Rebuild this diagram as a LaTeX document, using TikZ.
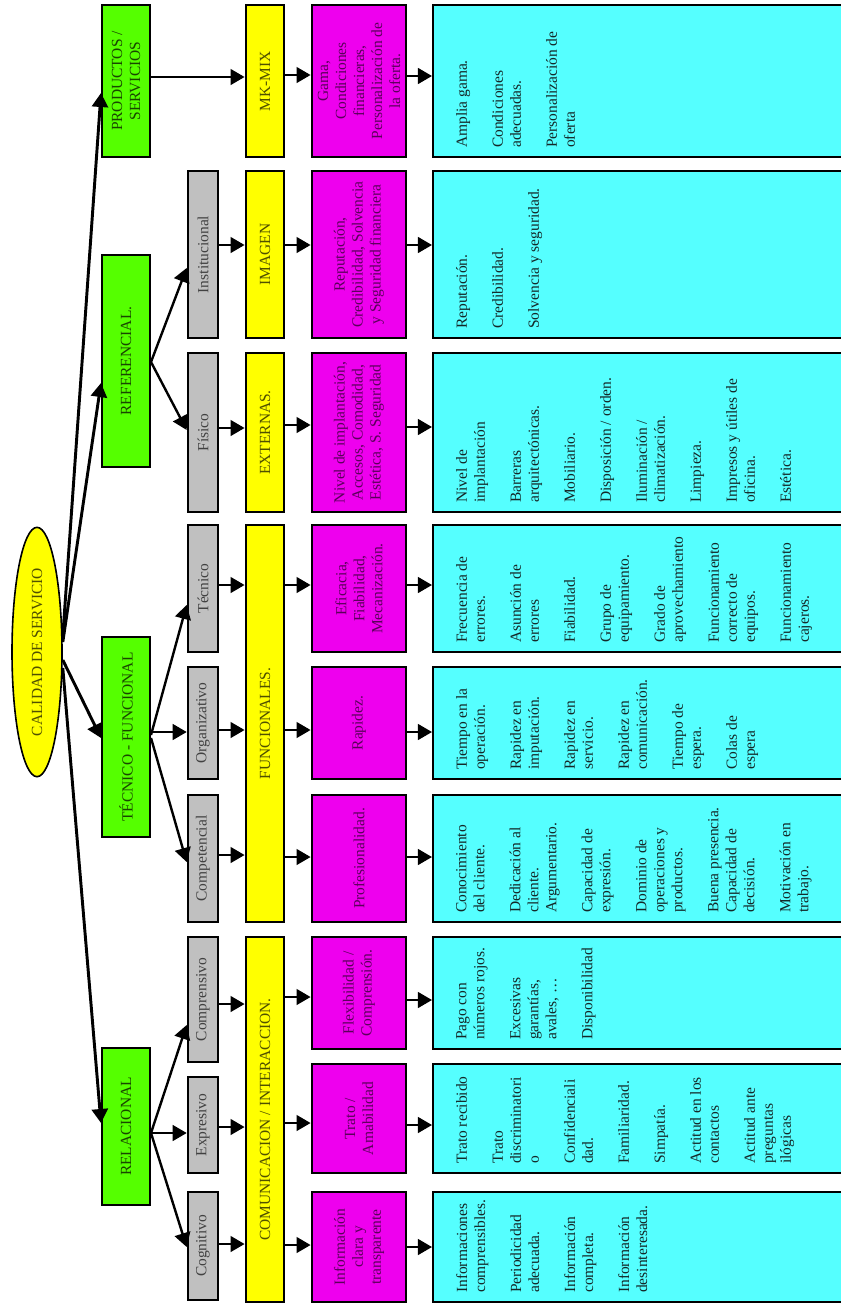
\documentclass[tikz,border=0pt]{standalone}
\usepackage{fontspec}
\setmainfont{Liberation Serif}
\usetikzlibrary{arrows.meta,shapes.geometric,fit}

\definecolor{cgreen}{RGB}{85,255,0}
\definecolor{cyel}{RGB}{255,255,0}
\definecolor{cmag}{RGB}{238,0,238}
\definecolor{cgrey}{RGB}{192,192,192}
\definecolor{ccyan}{RGB}{85,255,255}
\definecolor{tgreen}{RGB}{25,70,0}
\definecolor{tyel}{RGB}{80,80,0}
\definecolor{tmag}{RGB}{90,0,90}
\definecolor{tgrey}{RGB}{65,65,65}
\definecolor{tcyan}{RGB}{20,40,40}

\newcommand\lbl{\fontsize{11.6}{13.5}\selectfont}
\newcommand\gap{\\[13.5pt]}

\begin{document}
\begin{tikzpicture}[x=0.75pt,y=-0.75pt,
  greenbox/.style={draw, line width=1.5pt, fill=cgreen, inner sep=0pt},
  greybox/.style={draw, line width=2pt, fill=cgrey, inner sep=0pt},
  yelbox/.style={draw, line width=2.2pt, fill=cyel, inner sep=0pt},
  magbox/.style={draw, line width=2.2pt, fill=cmag, inner sep=0pt},
  cyanbox/.style={draw, line width=1.6pt, fill=ccyan, inner sep=0pt},
  gtext/.style={rotate=90, align=center, font=\lbl, text=tgreen},
  grtext/.style={rotate=90, align=center, font=\lbl, text=tgrey},
  ytext/.style={rotate=90, align=center, font=\lbl, text=tyel},
  mtext/.style={rotate=90, align=center, font=\lbl, text=tmag},
  ctext/.style={rotate=90, anchor=north west, align=left, font=\lbl, text=tcyan, inner sep=0pt},
  tip/.style={-{Triangle[length=10.5pt,width=12pt]}},
  heavy/.style={tip, line width=2.2pt},
  medium/.style={tip, line width=1.8pt},
  light/.style={tip, line width=1pt}
]
\useasboundingbox (0,0) rectangle (840,1303);

% root
\node[ellipse, draw, line width=1.2pt, fill=cyel, minimum width=37.5pt, minimum height=187pt, inner sep=0pt] (cal) at (37,652) {};
\node[ytext] (cal-t) at (cal.center) {CALIDAD DE SERVICIO};

% first level
\node[greenbox, fit={(102,5)(150,157)}] (prod) {};
\node[greenbox, fit={(102,255)(150,467)}] (ref) {};
\node[greenbox, fit={(102,637)(150,837)}] (tec) {};
\node[greenbox, fit={(102,1048)(150,1205)}] (rel) {};
\node[gtext] (prod-t) at (prod.center) {PRODUCTOS /\\SERVICIOS};
\node[gtext] (ref-t) at (ref.center) {REFERENCIAL.};
\node[gtext] (tec-t) at (tec.center) {TÉCNICO - FUNCIONAL};
\node[gtext] (rel-t) at (rel.center) {RELACIONAL};

% second level
\node[greybox, fit={(188,171)(218,338)}] (inst) {};
\node[greybox, fit={(188,353)(218,512)}] (fis) {};
\node[greybox, fit={(188,525)(218,652)}] (tecn) {};
\node[greybox, fit={(188,667)(218,779)}] (org) {};
\node[greybox, fit={(188,795)(218,922)}] (compe) {};
\node[greybox, fit={(188,937)(218,1062)}] (compr) {};
\node[greybox, fit={(188,1077)(218,1173)}] (expr) {};
\node[greybox, fit={(188,1192)(218,1300)}] (cogn) {};
\node[grtext] (inst-t) at (inst.center) {Institucional};
\node[grtext] (fis-t) at (fis.center) {Físico};
\node[grtext] (tecn-t) at (tecn.center) {Técnico};
\node[grtext] (org-t) at (org.center) {Organizativo};
\node[grtext] (compe-t) at (compe.center) {Competencial};
\node[grtext] (compr-t) at (compr.center) {Comprensivo};
\node[grtext] (expr-t) at (expr.center) {Expresivo};
\node[grtext] (cogn-t) at (cogn.center) {Cognitivo};

% third level
\node[yelbox, fit={(246,5)(284,157)}] (mk) {};
\node[yelbox, fit={(246,171)(284,338)}] (img) {};
\node[yelbox, fit={(246,353)(284,512)}] (ext) {};
\node[yelbox, fit={(246,525)(284,922)}] (func) {};
\node[yelbox, fit={(246,937)(284,1302)}] (com) {};
\node[ytext] (mk-t) at (mk.center) {MK-MIX};
\node[ytext] (img-t) at (img.center) {IMAGEN};
\node[ytext] (ext-t) at (ext.center) {EXTERNAS.};
\node[ytext] (func-t) at (func.center) {FUNCIONALES.};
\node[ytext] (com-t) at (com.center) {COMUNICACION / INTERACCION.};

% attributes
\node[magbox, fit={(312,5)(406,157)}] (m1) {};
\node[magbox, fit={(312,171)(406,338)}] (m2) {};
\node[magbox, fit={(312,353)(406,512)}] (m3) {};
\node[magbox, fit={(312,525)(406,652)}] (m4) {};
\node[magbox, fit={(312,667)(406,779)}] (m5) {};
\node[magbox, fit={(312,795)(406,922)}] (m6) {};
\node[magbox, fit={(312,937)(406,1049)}] (m7) {};
\node[magbox, fit={(312,1064)(406,1173)}] (m8) {};
\node[magbox, fit={(312,1192)(406,1302)}] (m9) {};
\node[mtext] (m1-t) at (m1.center) {Gama,\\Condiciones\\financieras,\\Personalización de\\la oferta.};
\node[mtext] (m2-t) at (m2.center) {Reputación,\\Credibilidad, Solvencia\\y Seguridad financiera};
\node[mtext] (m3-t) at (m3.center) {Nivel de implantación,\\Accesos, Comodidad,\\Estética, S. Seguridad};
\node[mtext] (m4-t) at (m4.center) {Eficacia,\\Fiabilidad,\\Mecanización.};
\node[mtext] (m5-t) at (m5.center) {Rapidez.};
\node[mtext] (m6-t) at (m6.center) {Profesionalidad.};
\node[mtext] (m7-t) at (m7.center) {Flexibilidad /\\Comprensión.};
\node[mtext] (m8-t) at (m8.center) {Trato /\\Amabilidad};
\node[mtext] (m9-t) at (m9.center) {Información\\clara y\\transparente};

% indicators
\node[cyanbox, fit={(433,5)(850,157)}] (c1) {};
\node[cyanbox, fit={(433,171)(850,338)}] (c2) {};
\node[cyanbox, fit={(433,353)(850,512)}] (c3) {};
\node[cyanbox, fit={(433,525)(850,652)}] (c4) {};
\node[cyanbox, fit={(433,667)(850,779)}] (c5) {};
\node[cyanbox, fit={(433,795)(850,922)}] (c6) {};
\node[cyanbox, fit={(433,937)(850,1049)}] (c7) {};
\node[cyanbox, fit={(433,1064)(850,1173)}] (c8) {};
\node[cyanbox, fit={(433,1192)(850,1302)}] (c9) {};
\node[ctext] (c1-t) at ([xshift=18pt,yshift=7.5pt]c1.south west)
  {Amplia gama.\gap Condiciones\\adecuadas.\gap Personalización de\\oferta};
\node[ctext] (c2-t) at ([xshift=18pt,yshift=7.5pt]c2.south west)
  {Reputación.\gap Credibilidad.\gap Solvencia y seguridad.};
\node[ctext] (c3-t) at ([xshift=18pt,yshift=7.5pt]c3.south west)
  {Nivel de\\implantación\gap Barreras\\arquitectónicas.\gap Mobiliario.\gap Disposición / orden.\gap
   Iluminación /\\climatización.\gap Limpieza.\gap Impresos y útiles de\\oficina.\gap Estética.};
\node[ctext] (c4-t) at ([xshift=18pt,yshift=7.5pt]c4.south west)
  {Frecuencia de\\errores.\gap Asunción de\\errores\gap Fiabilidad.\gap Grupo de\\equipamiento.\gap
   Grado de\\aprovechamiento\gap Funcionamiento\\correcto de\\equipos.\gap Funcionamiento\\cajeros.};
\node[ctext] (c5-t) at ([xshift=18pt,yshift=7.5pt]c5.south west)
  {Tiempo en la\\operación.\gap Rapidez en\\imputación.\gap Rapidez en\\servicio.\gap Rapidez en\\comunicación.\gap
   Tiempo de\\espera.\gap Colas de\\espera};
\node[ctext] (c6-t) at ([xshift=18pt,yshift=7.5pt]c6.south west)
  {Conocimiento\\del cliente.\gap Dedicación al\\cliente.\\Argumentario.\gap Capacidad de\\expresión.\gap
   Dominio de\\operaciones y\\productos.\gap Buena presencia.\\Capacidad de\\decisión.\gap Motivación en\\trabajo.};
\node[ctext] (c7-t) at ([xshift=18pt,yshift=7.5pt]c7.south west)
  {Pago con\\números rojos.\gap Excesivas\\garantías,\\avales, \dots\gap Disponibilidad};
\node[ctext] (c8-t) at ([xshift=18pt,yshift=7.5pt]c8.south west)
  {Trato recibido\gap Trato\\discriminatori\\o\gap Confidenciali\\dad.\gap Familiaridad.\gap Simpatía.\gap
   Actitud en los\\contactos\gap Actitud ante\\preguntas\\ilógicas};
\node[ctext] (c9-t) at ([xshift=18pt,yshift=7.5pt]c9.south west)
  {Informaciones\\comprensibles.\gap Periodicidad\\adecuada.\gap Información\\completa.\gap Información\\desinteresada.};

% root to first level
\draw[heavy] (cal.east |- 0,636) -- (prod.west |- 0,93);
\draw[heavy] (cal.east |- 0,642) -- (ref.west |- 0,383);
\draw[heavy] (cal.east |- 0,660) -- (tec.west |- 0,738);
\draw[heavy] (cal.east |- 0,668) -- (rel.west |- 0,1123);

% first to second level
\draw[light] (prod.east |- 0,77) -- (mk.west |- 0,77);
\draw[medium] (ref.east |- 0,362) -- (inst.west |- 0,268);
\draw[medium] (ref.east |- 0,362) -- (fis.west |- 0,430);
\draw[medium] (tec.east |- 0,735) -- (tecn.west |- 0,605);
\draw[light] (tec.east |- 0,732) -- (org.west |- 0,732);
\draw[medium] (tec.east |- 0,738) -- (compe.west |- 0,862);
\draw[medium] (rel.east |- 0,1133) -- (compr.west |- 0,1025);
\draw[light] (rel.east |- 0,1133) -- (expr.west |- 0,1133);
\draw[medium] (rel.east |- 0,1133) -- (cogn.west |- 0,1247);

% second to third level
\draw[light] (inst.east |- 0,245) -- (img.west |- 0,245);
\draw[light] (fis.east |- 0,428) -- (ext.west |- 0,428);
\draw[light] (tecn.east |- 0,585) -- (func.west |- 0,585);
\draw[light] (org.east |- 0,730) -- (func.west |- 0,730);
\draw[light] (compe.east |- 0,855) -- (func.west |- 0,855);
\draw[light] (compr.east |- 0,1004) -- (com.west |- 0,1004);
\draw[light] (expr.east |- 0,1127) -- (com.west |- 0,1127);
\draw[light] (cogn.east |- 0,1244) -- (com.west |- 0,1244);

% third level to attributes
\draw[light] (mk.east |- 0,75) -- (m1.west |- 0,75);
\draw[light] (img.east |- 0,245) -- (m2.west |- 0,245);
\draw[light] (ext.east |- 0,425) -- (m3.west |- 0,425);
\draw[light] (func.east |- 0,585) -- (m4.west |- 0,585);
\draw[light] (func.east |- 0,730) -- (m5.west |- 0,730);
\draw[light] (func.east |- 0,857) -- (m6.west |- 0,857);
\draw[light] (com.east |- 0,997) -- (m7.west |- 0,997);
\draw[light] (com.east |- 0,1123) -- (m8.west |- 0,1123);
\draw[light] (com.east |- 0,1245) -- (m9.west |- 0,1245);

% attributes to indicators
\draw[light] (m1.east |- 0,76) -- (c1.west |- 0,76);
\draw[light] (m2.east |- 0,245) -- (c2.west |- 0,245);
\draw[light] (m3.east |- 0,427) -- (c3.west |- 0,427);
\draw[light] (m4.east |- 0,585) -- (c4.west |- 0,585);
\draw[light] (m5.east |- 0,732) -- (c5.west |- 0,732);
\draw[light] (m6.east |- 0,857) -- (c6.west |- 0,857);
\draw[light] (m7.east |- 0,1000) -- (c7.west |- 0,1000);
\draw[light] (m8.east |- 0,1125) -- (c8.west |- 0,1125);
\draw[light] (m9.east |- 0,1247) -- (c9.west |- 0,1247);
\end{tikzpicture}
\end{document}
